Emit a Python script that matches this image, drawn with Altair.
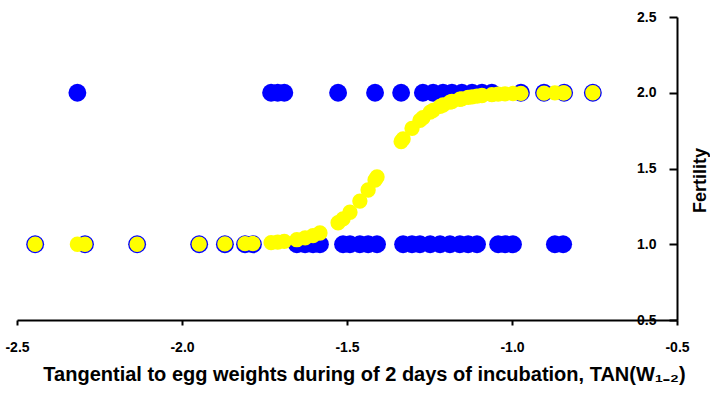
import altair as alt
import pandas as pd

# observed egg measure (x), observed fertility (1 or 2) and predicted fertility
obs_x = [-2.445, -2.317, -2.294, -2.136, -1.948, -1.870, -1.809, -1.785,
         -1.730, -1.710, -1.690, -1.652, -1.627, -1.603, -1.582, -1.527,
         -1.512, -1.491, -1.461, -1.436, -1.415, -1.409, -1.336, -1.330,
         -1.303, -1.279, -1.270, -1.248, -1.239, -1.218, -1.209, -1.188,
         -1.182, -1.158, -1.152, -1.133, -1.121, -1.106, -1.091, -1.061,
         -1.042, -1.021, -0.997, -0.973, -0.903, -0.870, -0.845, -0.842,
         -0.755]
obs_y = [1, 2, 1, 1, 1, 1, 1, 1,
         2, 2, 2, 1, 1, 1, 1, 2,
         1, 1, 1, 1, 2, 1, 2, 1,
         1, 1, 2, 1, 2, 1, 2, 1,
         2, 1, 2, 1, 2, 1, 2, 2,
         1, 1, 1, 2, 2, 1, 1, 2,
         2]
pred_y = [1.000, 1.000, 1.000, 1.000, 1.001, 1.002, 1.004, 1.005,
          1.011, 1.014, 1.019, 1.030, 1.042, 1.057, 1.074, 1.142,
          1.168, 1.211, 1.285, 1.358, 1.424, 1.444, 1.678, 1.695,
          1.765, 1.818, 1.835, 1.872, 1.884, 1.910, 1.919, 1.938,
          1.942, 1.957, 1.960, 1.969, 1.973, 1.978, 1.982, 1.988,
          1.991, 1.993, 1.995, 1.996, 1.998, 1.999, 1.999, 1.999,
          2.000]

x_ticks = [-2.5, -2.0, -1.5, -1.0, -0.5]
y_ticks = [0.5, 1.0, 1.5, 2.0, 2.5]

df = pd.DataFrame({"x": obs_x, "obs": obs_y, "pred": pred_y})

FONT = "Liberation Sans"
W, H = 660, 303

x_axis = alt.Axis(
    values=x_ticks,
    labelExpr="replace(format(datum.value, '.1f'), '\u2212', '-')",
    title="Tangential to egg weights during of 2 days of incubation, TAN(W\u2081\u208b\u2082)",
    tickSize=5, tickWidth=2, domainWidth=2, domainColor="black", tickColor="black",
    labelFont=FONT, labelFontSize=14, labelFontWeight="bold", labelColor="black",
    labelPadding=15, labelFlush=False, labelOverlap=False,
    titleFont=FONT, titleFontSize=20, titleFontWeight="bold", titleColor="black",
    titleX=347, titleAlign="center",
    titlePadding=10, grid=False,
)
y_axis = alt.Axis(
    orient="left", offset=-W,
    values=y_ticks,
    labelExpr="format(datum.value, '.1f')",
    title="Fertility",
    tickSize=8, tickWidth=2, domainWidth=2, domainColor="black", tickColor="black",
    labelFont=FONT, labelFontSize=14, labelFontWeight="bold", labelColor="black",
    labelPadding=13, labelFlush=False, labelOverlap=False,
    titleFont=FONT, titleFontSize=18, titleFontWeight="bold", titleColor="black",
    titleAngle=270, titleX=23, titleY=163, titleAlign="center", titleBaseline="middle",
    grid=False,
)

xs = alt.Scale(domain=[-2.5, -0.5], nice=False, zero=False)
ys = alt.Scale(domain=[0.5, 2.5], nice=False, zero=False)

blue = alt.Chart(df).mark_circle(color="#0000FF", opacity=1, size=320).encode(
    x=alt.X("x:Q", scale=xs, axis=x_axis),
    y=alt.Y("obs:Q", scale=ys, axis=y_axis),
)
yellow = alt.Chart(df).mark_circle(color="#FFFF00", opacity=1, size=235).encode(
    x=alt.X("x:Q", scale=xs, axis=x_axis),
    y=alt.Y("pred:Q", scale=ys, axis=y_axis),
)

chart = alt.layer(blue, yellow).properties(
    width=W, height=H,
    padding={"left": 17, "top": 17, "right": 33, "bottom": 78},
    autosize=alt.AutoSizeParams(type="none"),
    background="white",
).configure_view(stroke=None)

chart.save("out.html", embed_options={"renderer": "svg", "actions": False})
